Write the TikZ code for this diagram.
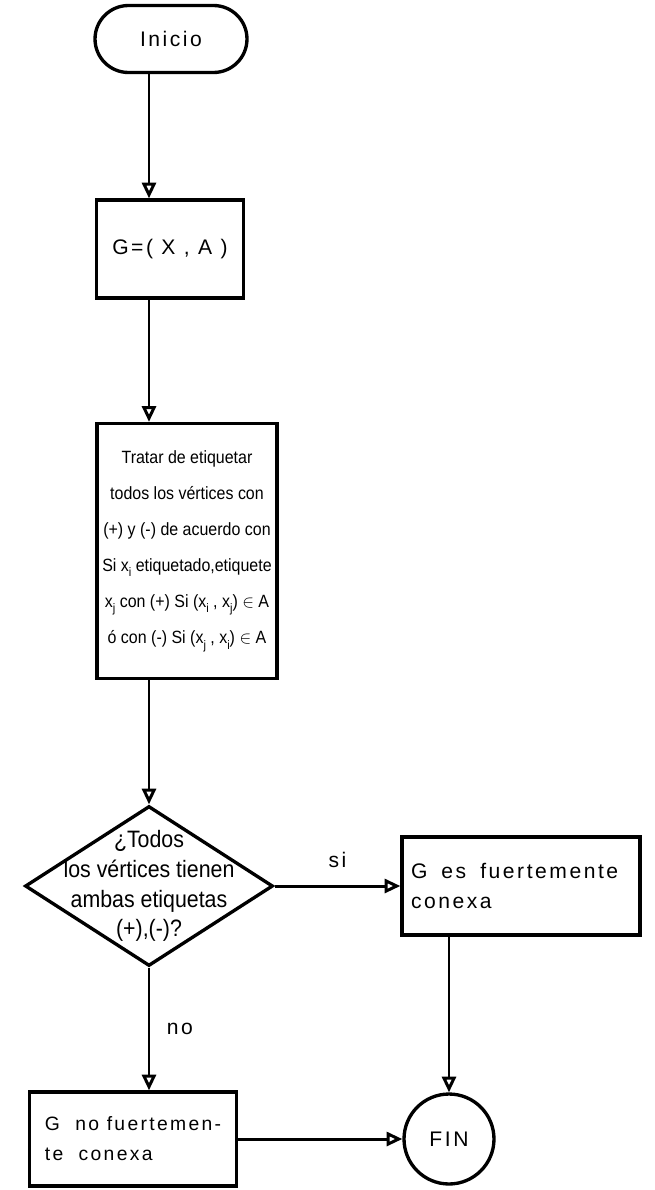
\documentclass[tikz,border=0pt]{standalone}
\usepackage{fontspec}
\setmainfont{Liberation Sans}
\newfontfamily\widefont[LetterSpace=12]{Liberation Sans}
\newfontfamily\narrowfont[FakeStretch=0.9]{Liberation Sans}
\usetikzlibrary{arrows.meta,shapes.geometric,shapes.misc}
\newcommand{\lowsub}[1]{\raisebox{-0.6ex}{\scriptsize #1}}

\begin{document}
\begin{tikzpicture}[x=0.02cm,y=-0.02cm,
		box/.style={draw,line width=1.9pt,inner sep=0pt},
		flow/.style={line width=1.7pt,-{Triangle[open,length=9pt,width=8pt]}},
		tag/.style={font=\widefont\fontsize{12}{17}\selectfont}]
	\useasboundingbox (0,0) rectangle (655,1190);
	\def\colx{149}
	\coordinate (col) at (\colx,0);
	% left column
		\node [box,rounded rectangle,minimum width=3.04cm,minimum height=1.34cm,font=\widefont\fontsize{12}{14}\selectfont] (inicio) at (171,39) {Inicio};
		\node [box,minimum width=2.94cm,minimum height=1.96cm,font=\widefont\fontsize{12}{14}\selectfont] (gxa) at (170,249) {G=( X , A )};
		\node [box,minimum width=3.6cm,minimum height=5.1cm,align=center,font=\narrowfont\fontsize{10.1}{20.5}\selectfont] (tratar) at (187,551)
			{Tratar de etiquetar\\todos los vértices con\\(+) y (-) de acuerdo con\\Si x\lowsub{i} etiquetado,etiquete\\x\lowsub{j} con (+) Si (x\lowsub{i} , x\lowsub{j}) $\in$ A\\ó con (-) Si (x\lowsub{j} , x\lowsub{i}) $\in$ A};
		\node [box,diamond,minimum width=4.96cm,minimum height=3.2cm,
			label={[font=\narrowfont\fontsize{13.5}{17}\selectfont,align=center]center:{¿Todos\\los vértices tienen\\ambas etiquetas\\(+),(-)?}}] (dec) at (\colx,886) {};
		\node [box,minimum width=4.14cm,minimum height=1.88cm,align=left,font=\widefont\fontsize{11}{17}\selectfont] (gno) at (133,1139) {G\ \ no\ fuertemen-\\te\ \ conexa};
	% right column
		\node [box,minimum width=4.76cm,minimum height=1.96cm,text width=4.4cm,align=left,tag] (gesf) at (521,886) {G\ \ es\ \ fuertemente\\conexa};
		\node [box,circle,minimum size=1.8cm,font=\widefont\fontsize{12}{14}\selectfont] (fin) at (449,1139) {FIN};
	% arrows
		\draw [flow] (inicio.south -| col) -- (gxa.north -| col);
		\draw [flow] (gxa.south -| col) -- (tratar.north -| col);
		\draw [flow] (tratar.south -| col) -- (dec.north);
		\draw [flow] (dec.east) -- node [above=6pt,tag] {si} (gesf.west);
		\draw [flow] (dec.south) -- node [right=6pt,tag] {no} (dec.south |- gno.north);
		\draw [flow] (gesf.south -| fin) -- (fin.north);
		\draw [flow] (gno.east) -- (fin.west);
\end{tikzpicture}
\end{document}
